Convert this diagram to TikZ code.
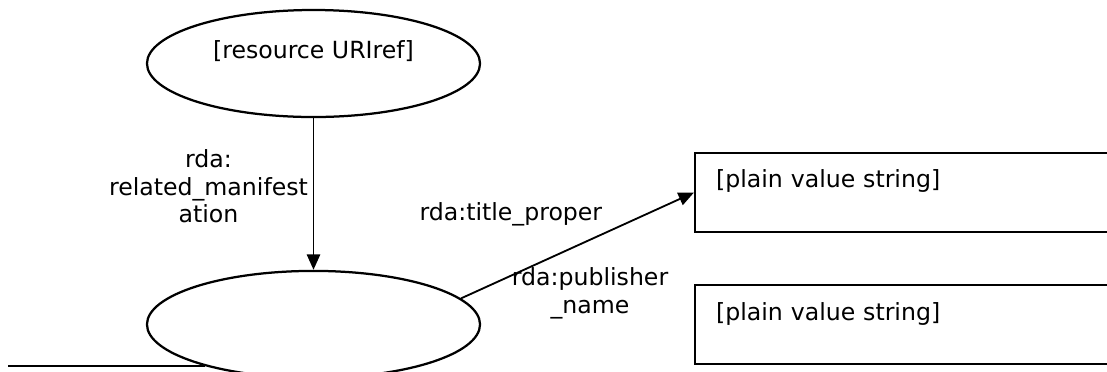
\documentclass[tikz,border=0pt]{standalone}
\usepackage{fontspec}
\setmainfont{DejaVu Sans}
\usepackage{tikz}
\usetikzlibrary{shapes.geometric, arrows.meta, positioning}

\begin{document}
\begin{tikzpicture}[
  x=0.025cm, y=-0.025cm,
  font=\fontsize{16.8}{19.5}\selectfont,
  node distance=1.275cm,
  oval/.style={ellipse, draw, line width=1.6pt, minimum width=8.325cm, minimum height=2.675cm, align=center},
  valbox/.style={rectangle, draw, line width=1.6pt, minimum height=1.975cm, text width=9.85cm, inner xsep=0.525cm, align=left},
  lbl/.style={align=center},
  arrow/.style={-{Triangle[length=11pt,width=9.5pt]}, line width=1.3pt},
  edge/.style={line width=1.6pt}
]
\clip (0,0) rectangle (1107,371);

% Resources
\node[oval] (resource) at (313.5,63.5) {[resource URIref]\\\mbox{}};
\node[oval, below=3.79cm of resource] (manif) {};

% Value strings
\node[valbox, anchor=west] (titleval) at (694,192.5) {[plain value string]\\\mbox{}};
\node[valbox, below=of titleval] (pubval) {[plain value string]\\\mbox{}};

% Properties
\draw[arrow] (resource) -- (manif) node[lbl, pos=0.45, left] {rda:\\related\_manifest\\ation};
\draw[arrow] (manif.10) -- (titleval.west) node[pos=0.63, above left] {rda:title\_proper};
\node[lbl] (pubprop) at (590,293.5) {rda:publisher\\\_name};

% Lead-in line
\coordinate (lead) at (8,363);
\draw[edge] (manif.201) -- (manif.201 -| lead);

\end{tikzpicture}
\end{document}
